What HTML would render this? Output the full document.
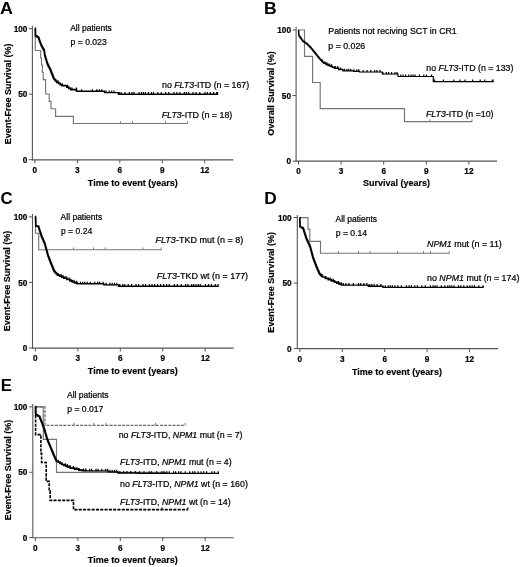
<!DOCTYPE html>
<html><head><meta charset="utf-8"><title>Figure</title>
<style>
html,body{margin:0;padding:0;background:#fff;}
svg{display:block;will-change:transform;}
text{font-family:"Liberation Sans",sans-serif;fill:#000;}
.tx{font-size:8.8px;stroke:#000;stroke-width:0.22px;}
.tk{font-size:8.4px;font-weight:bold;stroke:#000;stroke-width:0.2px;}
.tt{font-size:9.03px;font-weight:bold;stroke:#000;stroke-width:0.15px;}
.pl{font-size:16px;font-weight:bold;fill:#000;}
.i{font-style:italic;}
</style></head>
<body>
<svg width="520" height="567" viewBox="0 0 520 567">
<rect width="520" height="567" fill="#fff"/>
<path d="M32.4,26 V160.20000000000002" fill="none" stroke="#555555" stroke-width="1.1"/>
<path d="M32.1,159.9 H233.3" fill="none" stroke="#555555" stroke-width="1.1"/>
<path d="M28.799999999999997,159.70 H32.4" stroke="#555555" stroke-width="1"/>
<text transform="translate(27.4,162.85) scale(0.98,1)" text-anchor="end" class="tk">0</text>
<path d="M28.799999999999997,94.15 H32.4" stroke="#555555" stroke-width="1"/>
<text transform="translate(27.4,97.30) scale(0.98,1)" text-anchor="end" class="tk">50</text>
<path d="M28.799999999999997,28.60 H32.4" stroke="#555555" stroke-width="1"/>
<text transform="translate(27.4,31.75) scale(0.98,1)" text-anchor="end" class="tk">100</text>
<path d="M34.90,159.9 v3.4" stroke="#555555" stroke-width="1"/>
<text transform="translate(34.90,172.75) scale(0.98,1)" text-anchor="middle" class="tk">0</text>
<path d="M77.35,159.9 v3.4" stroke="#555555" stroke-width="1"/>
<text transform="translate(77.35,172.75) scale(0.98,1)" text-anchor="middle" class="tk">3</text>
<path d="M119.80,159.9 v3.4" stroke="#555555" stroke-width="1"/>
<text transform="translate(119.80,172.75) scale(0.98,1)" text-anchor="middle" class="tk">6</text>
<path d="M162.25,159.9 v3.4" stroke="#555555" stroke-width="1"/>
<text transform="translate(162.25,172.75) scale(0.98,1)" text-anchor="middle" class="tk">9</text>
<path d="M204.70,159.9 v3.4" stroke="#555555" stroke-width="1"/>
<text transform="translate(204.70,172.75) scale(0.98,1)" text-anchor="middle" class="tk">12</text>
<text x="132.8" y="185.80" text-anchor="middle" class="tt">Time to event (years)</text>
<text transform="translate(10.7,93.8) rotate(-90)" text-anchor="middle" class="tt">Event-Free Survival (%)</text>
<text transform="translate(-0.1,14.1) scale(1.12,1)" class="pl">A</text>
<path d="M35.30,28.60 L35.30,50.50 L40.70,50.50 L40.70,57.80 L41.50,57.80 L41.50,65.00 L42.40,65.00 L42.40,72.30 L43.20,72.30 L43.20,79.60 L45.50,79.60 L45.70,94.00 L49.20,94.00 L49.20,101.40 L51.00,101.40 L51.00,108.70 L55.60,108.70 L55.60,116.30 L73.40,116.30 L73.40,123.50 L187.50,123.50" fill="none" stroke="#757575" stroke-width="1.15"/>
<path d="M120.50,123.80 v-2.6 M132.50,123.80 v-2.6 M165.50,123.80 v-2.6 M187.50,123.80 v-2.6" fill="none" stroke="#757575" stroke-width="0.9"/>
<path d="M35.30,28.20 L35.32,28.20 L35.32,29.16 L35.35,29.16 L35.35,30.12 L35.38,30.12 L35.38,31.09 L35.40,31.09 L35.40,32.05 L35.42,32.05 L35.42,33.01 L35.45,33.01 L35.45,33.98 L35.48,33.98 L35.48,34.94 L35.50,34.94 L35.50,35.90 L36.95,35.90 L36.95,36.85 L38.40,36.85 L38.40,37.80 L38.77,37.80 L38.77,38.87 L39.13,38.87 L39.13,39.93 L39.50,39.93 L39.50,41.00 L39.88,41.00 L39.88,42.00 L40.25,42.00 L40.25,43.00 L40.62,43.00 L40.62,44.00 L41.00,44.00 L41.00,45.00 L41.50,45.00 L41.50,46.00 L42.00,46.00 L42.00,47.00 L42.50,47.00 L42.50,48.00 L43.07,48.00 L43.07,48.93 L43.63,48.93 L43.63,49.87 L44.20,49.87 L44.20,50.80 L44.33,50.80 L44.33,51.85 L44.45,51.85 L44.45,52.90 L44.58,52.90 L44.58,53.95 L44.70,53.95 L44.70,55.00 L44.96,55.00 L44.96,55.90 L45.22,55.90 L45.22,56.80 L45.48,56.80 L45.48,57.70 L45.74,57.70 L45.74,58.60 L46.00,58.60 L46.00,59.50 L46.32,59.50 L46.32,60.52 L46.64,60.52 L46.64,61.54 L46.96,61.54 L46.96,62.56 L47.28,62.56 L47.28,63.58 L47.60,63.58 L47.60,64.60 L48.08,64.60 L48.08,65.57 L48.57,65.57 L48.57,66.53 L49.05,66.53 L49.05,67.50 L49.53,67.50 L49.53,68.47 L50.02,68.47 L50.02,69.43 L50.50,69.43 L50.50,70.40 L50.88,70.40 L50.88,71.36 L51.26,71.36 L51.26,72.31 L51.63,72.31 L51.63,73.27 L52.01,73.27 L52.01,74.22 L52.39,74.22 L52.39,75.18 L52.77,75.18 L52.77,76.13 L53.14,76.13 L53.14,77.09 L53.52,77.09 L53.52,78.04 L53.90,78.04 L53.90,79.00 L54.85,79.00 L54.85,80.13 L55.80,80.13 L55.80,81.27 L56.75,81.27 L56.75,82.40 L58.50,82.40 L58.50,83.47 L60.25,83.47 L60.25,84.53 L62.00,84.53 L62.00,85.60 L66.80,85.60 L66.80,87.20 L68.75,87.20 L68.75,88.40 L70.70,88.40 L70.70,89.60 L76.50,89.60 L76.50,91.30" fill="none" stroke="#000" stroke-width="1.7" stroke-linejoin="miter"/>
<path d="M76.50,91.30 L104.60,91.30 L104.60,92.60 L118.50,92.60 L118.50,94.20 L217.50,94.20" fill="none" stroke="#000" stroke-width="1.4" stroke-linejoin="miter" stroke-linecap="square"/>
<path d="M58.00,82.70 v-2.4 M62.40,85.90 v-2.4 M67.60,87.50 v-2.4 M72.00,89.90 v-2.4 M76.40,89.90 v-2.4 M81.60,91.60 v-2.4 M92.40,91.60 v-2.4 M96.80,91.60 v-2.4 M99.40,91.60 v-2.4 M101.70,91.60 v-2.4 M106.10,92.90 v-2.4 M109.10,92.90 v-2.4 M111.70,92.90 v-2.4 M114.00,92.90 v-2.4 M119.20,94.50 v-2.4 M121.20,94.50 v-2.4 M125.00,94.50 v-2.4 M129.40,94.50 v-2.4 M132.00,94.50 v-2.4 M134.00,94.50 v-2.4 M139.20,94.50 v-2.4 M141.50,94.50 v-2.4 M143.50,94.50 v-2.4 M145.50,94.50 v-2.4 M148.50,94.50 v-2.4 M151.50,94.50 v-2.4 M153.50,94.50 v-2.4 M157.90,94.50 v-2.4 M161.30,94.50 v-2.4 M165.70,94.50 v-2.4 M168.70,94.50 v-2.4 M173.90,94.50 v-2.4 M176.90,94.50 v-2.4 M179.90,94.50 v-2.4 M184.30,94.50 v-2.4 M186.30,94.50 v-2.4 M188.60,94.50 v-2.4 M193.00,94.50 v-2.4 M196.00,94.50 v-2.4 M199.80,94.50 v-2.4 M205.00,94.50 v-2.4 M207.30,94.50 v-2.4 M210.30,94.50 v-2.4 M213.70,94.50 v-2.4 M216.70,94.50 v-2.4 M217.50,94.50 v-2.4" fill="none" stroke="#000" stroke-width="1.2"/>
<text x="70.20" y="30.85" class="tx" style="font-size:8.5px">All patients</text>
<text x="70.60" y="44.95" class="tx" style="font-size:8.6px">p = 0.023</text>
<text x="162.00" y="87.65" class="tx">no <tspan class="i">FLT3</tspan>-ITD (n = 167)</text>
<text x="161.70" y="118.15" class="tx" style="font-size:8.9px"><tspan class="i">FLT3</tspan>-ITD (n = 18)</text>
<path d="M296.1,26.8 V161.45000000000002" fill="none" stroke="#555555" stroke-width="1.1"/>
<path d="M295.8,161.15 H497" fill="none" stroke="#555555" stroke-width="1.1"/>
<path d="M292.5,161.10 H296.1" stroke="#555555" stroke-width="1"/>
<text transform="translate(291,164.25) scale(0.98,1)" text-anchor="end" class="tk">0</text>
<path d="M292.5,95.55 H296.1" stroke="#555555" stroke-width="1"/>
<text transform="translate(291,98.70) scale(0.98,1)" text-anchor="end" class="tk">50</text>
<path d="M292.5,30.00 H296.1" stroke="#555555" stroke-width="1"/>
<text transform="translate(291,33.15) scale(0.98,1)" text-anchor="end" class="tk">100</text>
<path d="M298.50,161.15 v3.4" stroke="#555555" stroke-width="1"/>
<text transform="translate(298.50,174.25) scale(0.98,1)" text-anchor="middle" class="tk">0</text>
<path d="M341.10,161.15 v3.4" stroke="#555555" stroke-width="1"/>
<text transform="translate(341.10,174.25) scale(0.98,1)" text-anchor="middle" class="tk">3</text>
<path d="M383.70,161.15 v3.4" stroke="#555555" stroke-width="1"/>
<text transform="translate(383.70,174.25) scale(0.98,1)" text-anchor="middle" class="tk">6</text>
<path d="M426.30,161.15 v3.4" stroke="#555555" stroke-width="1"/>
<text transform="translate(426.30,174.25) scale(0.98,1)" text-anchor="middle" class="tk">9</text>
<path d="M468.90,161.15 v3.4" stroke="#555555" stroke-width="1"/>
<text transform="translate(468.90,174.25) scale(0.98,1)" text-anchor="middle" class="tk">12</text>
<text x="396.5" y="186.10" text-anchor="middle" class="tt">Survival (years)</text>
<text transform="translate(273.8,93.5) rotate(-90)" text-anchor="middle" class="tt">Overall Survival (%)</text>
<text transform="translate(264,13.9) scale(1.1,1)" class="pl">B</text>
<path d="M298.70,30.00 L304.50,30.00 L304.50,56.30 L312.60,56.30 L312.60,82.50 L320.20,82.50 L320.20,108.60 L404.50,108.60 L404.50,121.60 L472.00,121.60" fill="none" stroke="#757575" stroke-width="1.15"/>
<path d="M430.00,121.90 v-2.6 M472.00,121.90 v-2.6" fill="none" stroke="#757575" stroke-width="0.9"/>
<path d="M298.50,30.00 L298.57,30.00 L298.57,30.98 L298.63,30.98 L298.63,31.97 L298.70,31.97 L298.70,32.95 L298.77,32.95 L298.77,33.93 L298.83,33.93 L298.83,34.92 L298.90,34.92 L298.90,35.90 L299.66,35.90 L299.66,36.96 L300.42,36.96 L300.42,38.02 L301.18,38.02 L301.18,39.08 L301.94,39.08 L301.94,40.14 L302.70,40.14 L302.70,41.20 L304.10,41.20 L304.10,42.23 L305.50,42.23 L305.50,43.27 L306.90,43.27 L306.90,44.30 L307.97,44.30 L307.97,45.38 L309.05,45.38 L309.05,46.45 L310.12,46.45 L310.12,47.52 L311.20,47.52 L311.20,48.60 L312.04,48.60 L312.04,49.64 L312.88,49.64 L312.88,50.68 L313.72,50.68 L313.72,51.72 L314.56,51.72 L314.56,52.76 L315.40,52.76 L315.40,53.80 L316.24,53.80 L316.24,54.86 L317.08,54.86 L317.08,55.92 L317.92,55.92 L317.92,56.98 L318.76,56.98 L318.76,58.04 L319.60,58.04 L319.60,59.10 L320.65,59.10 L320.65,60.17 L321.70,60.17 L321.70,61.25 L322.75,61.25 L322.75,62.33 L323.80,62.33 L323.80,63.40 L325.95,63.40 L325.95,64.45 L328.10,64.45 L328.10,65.50 L330.20,65.50 L330.20,66.40 L332.30,66.40 L332.30,67.30 L334.40,67.30 L334.40,68.20 L338.65,68.20 L338.65,69.50 L342.90,69.50 L342.90,70.80" fill="none" stroke="#000" stroke-width="1.4" stroke-linejoin="miter"/>
<path d="M342.90,70.80 L353.50,70.80 L353.50,71.40 L359.40,71.40 L359.40,72.00 L382.30,72.00 L382.30,74.00 L398.00,74.00 L398.00,76.50 L433.30,76.50 L433.30,81.60 L493.00,81.60" fill="none" stroke="#000" stroke-width="1.2" stroke-linejoin="miter" stroke-linecap="square"/>
<path d="M322.00,61.55 v-2.4 M325.00,63.70 v-2.4 M327.00,64.75 v-2.4 M329.30,65.80 v-2.4 M331.60,66.70 v-2.4 M335.40,68.50 v-2.4 M337.70,68.50 v-2.4 M340.70,69.80 v-2.4 M344.50,71.10 v-2.4 M346.80,71.10 v-2.4 M348.80,71.10 v-2.4 M350.80,71.10 v-2.4 M353.80,71.70 v-2.4 M356.80,71.70 v-2.4 M358.80,71.70 v-2.4 M363.20,72.30 v-2.4 M367.00,72.30 v-2.4 M370.80,72.30 v-2.4 M374.60,72.30 v-2.4 M376.90,72.30 v-2.4 M379.90,72.30 v-2.4 M382.90,74.30 v-2.4 M386.30,74.30 v-2.4 M388.60,74.30 v-2.4 M391.60,74.30 v-2.4 M395.00,74.30 v-2.4 M397.00,74.30 v-2.4 M400.80,76.80 v-2.4 M403.10,76.80 v-2.4 M405.70,76.80 v-2.4 M408.70,76.80 v-2.4 M411.00,76.80 v-2.4 M413.00,76.80 v-2.4 M415.00,76.80 v-2.4 M419.40,76.80 v-2.4 M423.80,76.80 v-2.4 M426.40,76.80 v-2.4 M431.60,76.80 v-2.4 M434.60,81.90 v-2.4 M443.40,81.90 v-2.4 M453.80,81.90 v-2.4 M459.80,81.90 v-2.4 M465.00,81.90 v-2.4 M472.60,81.90 v-2.4 M480.20,81.90 v-2.4 M484.80,81.90 v-2.4 M492.40,81.90 v-2.4 M493.00,81.90 v-2.4" fill="none" stroke="#000" stroke-width="1.2"/>
<text x="328.30" y="34.15" class="tx">Patients not reciving SCT in CR1</text>
<text x="328.30" y="49.15" class="tx">p = 0.026</text>
<text x="426.30" y="70.65" class="tx">no <tspan class="i">FLT3</tspan>-ITD (n = 133)</text>
<text x="426.00" y="116.85" class="tx"><tspan class="i">FLT3</tspan>-ITD (n =10)</text>
<path d="M32.5,214 V348.40000000000003" fill="none" stroke="#555555" stroke-width="1.1"/>
<path d="M32.2,348.1 H233.7" fill="none" stroke="#555555" stroke-width="1.1"/>
<path d="M28.9,348.00 H32.5" stroke="#555555" stroke-width="1"/>
<text transform="translate(27.4,351.15) scale(0.98,1)" text-anchor="end" class="tk">0</text>
<path d="M28.9,282.45 H32.5" stroke="#555555" stroke-width="1"/>
<text transform="translate(27.4,285.60) scale(0.98,1)" text-anchor="end" class="tk">50</text>
<path d="M28.9,216.90 H32.5" stroke="#555555" stroke-width="1"/>
<text transform="translate(27.4,220.05) scale(0.98,1)" text-anchor="end" class="tk">100</text>
<path d="M35.40,348.1 v3.4" stroke="#555555" stroke-width="1"/>
<text transform="translate(35.40,361.05) scale(0.98,1)" text-anchor="middle" class="tk">0</text>
<path d="M77.85,348.1 v3.4" stroke="#555555" stroke-width="1"/>
<text transform="translate(77.85,361.05) scale(0.98,1)" text-anchor="middle" class="tk">3</text>
<path d="M120.30,348.1 v3.4" stroke="#555555" stroke-width="1"/>
<text transform="translate(120.30,361.05) scale(0.98,1)" text-anchor="middle" class="tk">6</text>
<path d="M162.75,348.1 v3.4" stroke="#555555" stroke-width="1"/>
<text transform="translate(162.75,361.05) scale(0.98,1)" text-anchor="middle" class="tk">9</text>
<path d="M205.20,348.1 v3.4" stroke="#555555" stroke-width="1"/>
<text transform="translate(205.20,361.05) scale(0.98,1)" text-anchor="middle" class="tk">12</text>
<text x="132.8" y="373.80" text-anchor="middle" class="tt">Time to event (years)</text>
<text transform="translate(10.2,281) rotate(-90)" text-anchor="middle" class="tt">Event-Free Survival (%)</text>
<text transform="translate(0.6,204) scale(1.05,1)" class="pl">C</text>
<path d="M35.50,216.90 L35.50,233.20 L38.70,233.20 L38.70,249.70 L161.30,249.70" fill="none" stroke="#757575" stroke-width="1.15"/>
<path d="M73.40,250.00 v-2.6 M93.50,250.00 v-2.6 M105.10,250.00 v-2.6 M143.00,250.00 v-2.6 M161.30,250.00 v-2.6" fill="none" stroke="#757575" stroke-width="0.9"/>
<path d="M35.50,216.30 L35.54,216.30 L35.54,217.29 L35.58,217.29 L35.58,218.28 L35.62,218.28 L35.62,219.27 L35.66,219.27 L35.66,220.26 L35.70,220.26 L35.70,221.25 L35.74,221.25 L35.74,222.24 L35.78,222.24 L35.78,223.23 L35.82,223.23 L35.82,224.22 L35.86,224.22 L35.86,225.21 L35.90,225.21 L35.90,226.20 L38.50,226.20 L38.50,227.20 L38.81,227.20 L38.81,228.15 L39.12,228.15 L39.12,229.10 L39.43,229.10 L39.43,230.05 L39.74,230.05 L39.74,231.00 L40.05,231.00 L40.05,231.95 L40.36,231.95 L40.36,232.90 L40.67,232.90 L40.67,233.85 L40.98,233.85 L40.98,234.80 L41.29,234.80 L41.29,235.75 L41.60,235.75 L41.60,236.70 L42.00,236.70 L42.00,237.62 L42.40,237.62 L42.40,238.55 L42.80,238.55 L42.80,239.47 L43.20,239.47 L43.20,240.40 L43.60,240.40 L43.60,241.32 L44.00,241.32 L44.00,242.25 L44.40,242.25 L44.40,243.17 L44.80,243.17 L44.80,244.10 L45.05,244.10 L45.05,245.00 L45.29,245.00 L45.29,245.90 L45.54,245.90 L45.54,246.80 L45.78,246.80 L45.78,247.70 L46.03,247.70 L46.03,248.60 L46.28,248.60 L46.28,249.50 L46.52,249.50 L46.52,250.40 L46.77,250.40 L46.77,251.30 L47.02,251.30 L47.02,252.20 L47.26,252.20 L47.26,253.10 L47.51,253.10 L47.51,254.00 L47.75,254.00 L47.75,254.90 L48.00,254.90 L48.00,255.80 L48.36,255.80 L48.36,256.73 L48.71,256.73 L48.71,257.67 L49.07,257.67 L49.07,258.60 L49.42,258.60 L49.42,259.53 L49.78,259.53 L49.78,260.47 L50.13,260.47 L50.13,261.40 L50.49,261.40 L50.49,262.33 L50.84,262.33 L50.84,263.27 L51.20,263.27 L51.20,264.20 L51.59,264.20 L51.59,265.12 L51.98,265.12 L51.98,266.05 L52.36,266.05 L52.36,266.98 L52.75,266.98 L52.75,267.90 L53.14,267.90 L53.14,268.82 L53.52,268.82 L53.52,269.75 L53.91,269.75 L53.91,270.68 L54.30,270.68 L54.30,271.60 L55.37,271.60 L55.37,272.80 L56.43,272.80 L56.43,274.00 L57.50,274.00 L57.50,275.20 L59.60,275.20 L59.60,276.20 L61.70,276.20 L61.70,277.20 L63.80,277.20 L63.80,278.20 L66.90,278.20 L66.90,279.50 L70.00,279.50 L70.00,280.80 L72.33,280.80 L72.33,281.80 L74.67,281.80 L74.67,282.80 L77.00,282.80 L77.00,283.80" fill="none" stroke="#000" stroke-width="1.7" stroke-linejoin="miter"/>
<path d="M77.00,283.80 L103.80,283.80 L103.80,284.90 L118.50,284.90 L118.50,286.20 L218.00,286.20" fill="none" stroke="#000" stroke-width="1.4" stroke-linejoin="miter" stroke-linecap="square"/>
<path d="M58.00,275.50 v-2.4 M61.00,276.50 v-2.4 M63.00,277.50 v-2.4 M66.00,278.50 v-2.4 M69.00,279.80 v-2.4 M71.00,281.10 v-2.4 M74.00,282.10 v-2.4 M76.60,283.10 v-2.4 M80.40,284.10 v-2.4 M82.70,284.10 v-2.4 M84.70,284.10 v-2.4 M87.30,284.10 v-2.4 M90.30,284.10 v-2.4 M94.70,284.10 v-2.4 M97.70,284.10 v-2.4 M99.70,284.10 v-2.4 M103.10,284.10 v-2.4 M106.10,285.20 v-2.4 M109.90,285.20 v-2.4 M112.20,285.20 v-2.4 M114.50,285.20 v-2.4 M116.80,285.20 v-2.4 M119.80,286.50 v-2.4 M122.80,286.50 v-2.4 M124.80,286.50 v-2.4 M128.20,286.50 v-2.4 M131.60,286.50 v-2.4 M136.00,286.50 v-2.4 M138.60,286.50 v-2.4 M143.00,286.50 v-2.4 M145.60,286.50 v-2.4 M149.40,286.50 v-2.4 M152.00,286.50 v-2.4 M154.60,286.50 v-2.4 M157.60,286.50 v-2.4 M160.60,286.50 v-2.4 M163.60,286.50 v-2.4 M166.60,286.50 v-2.4 M169.20,286.50 v-2.4 M174.40,286.50 v-2.4 M177.40,286.50 v-2.4 M181.20,286.50 v-2.4 M185.60,286.50 v-2.4 M187.90,286.50 v-2.4 M191.70,286.50 v-2.4 M193.70,286.50 v-2.4 M196.00,286.50 v-2.4 M198.30,286.50 v-2.4 M200.30,286.50 v-2.4 M205.50,286.50 v-2.4 M208.50,286.50 v-2.4 M211.50,286.50 v-2.4 M215.30,286.50 v-2.4 M218.00,286.50 v-2.4" fill="none" stroke="#000" stroke-width="1.2"/>
<text x="60.60" y="219.95" class="tx" style="font-size:8.5px">All patients</text>
<text x="60.90" y="233.65" class="tx" style="font-size:8.6px">p = 0.24</text>
<text x="155.50" y="243.15" class="tx" style="font-size:9.03px"><tspan class="i">FLT3</tspan>-TKD mut (n = 8)</text>
<text x="156.80" y="279.45" class="tx" style="font-size:8.97px"><tspan class="i">FLT3</tspan>-TKD wt (n = 177)</text>
<path d="M297.3,215 V348.90000000000003" fill="none" stroke="#555555" stroke-width="1.1"/>
<path d="M297.0,348.6 H498" fill="none" stroke="#555555" stroke-width="1.1"/>
<path d="M293.7,348.60 H297.3" stroke="#555555" stroke-width="1"/>
<text transform="translate(291.6,351.75) scale(0.98,1)" text-anchor="end" class="tk">0</text>
<path d="M293.7,283.05 H297.3" stroke="#555555" stroke-width="1"/>
<text transform="translate(291.6,286.20) scale(0.98,1)" text-anchor="end" class="tk">50</text>
<path d="M293.7,217.50 H297.3" stroke="#555555" stroke-width="1"/>
<text transform="translate(291.6,220.65) scale(0.98,1)" text-anchor="end" class="tk">100</text>
<path d="M299.90,348.6 v3.4" stroke="#555555" stroke-width="1"/>
<text transform="translate(299.90,361.85) scale(0.98,1)" text-anchor="middle" class="tk">0</text>
<path d="M342.29,348.6 v3.4" stroke="#555555" stroke-width="1"/>
<text transform="translate(342.29,361.85) scale(0.98,1)" text-anchor="middle" class="tk">3</text>
<path d="M384.68,348.6 v3.4" stroke="#555555" stroke-width="1"/>
<text transform="translate(384.68,361.85) scale(0.98,1)" text-anchor="middle" class="tk">6</text>
<path d="M427.07,348.6 v3.4" stroke="#555555" stroke-width="1"/>
<text transform="translate(427.07,361.85) scale(0.98,1)" text-anchor="middle" class="tk">9</text>
<path d="M469.46,348.6 v3.4" stroke="#555555" stroke-width="1"/>
<text transform="translate(469.46,361.85) scale(0.98,1)" text-anchor="middle" class="tk">12</text>
<text x="396.9" y="374.80" text-anchor="middle" class="tt">Time to event (years)</text>
<text transform="translate(273.8,282.4) rotate(-90)" text-anchor="middle" class="tt">Event-Free Survival (%)</text>
<text transform="translate(264.3,203.9) scale(1.08,1)" class="pl">D</text>
<path d="M299.80,217.60 L308.00,217.60 L308.00,229.40 L309.80,229.40 L309.80,241.30 L320.50,241.30 L320.50,253.20 L449.30,253.20" fill="none" stroke="#757575" stroke-width="1.15"/>
<path d="M338.40,253.50 v-2.6 M358.50,253.50 v-2.6 M370.10,253.50 v-2.6 M397.60,253.50 v-2.6 M423.50,253.50 v-2.6 M430.50,253.50 v-2.6 M449.30,253.50 v-2.6" fill="none" stroke="#757575" stroke-width="0.9"/>
<path d="M299.80,217.50 L299.83,217.50 L299.83,218.45 L299.86,218.45 L299.86,219.40 L299.89,219.40 L299.89,220.35 L299.92,220.35 L299.92,221.30 L299.95,221.30 L299.95,222.25 L299.98,222.25 L299.98,223.20 L300.01,223.20 L300.01,224.15 L300.04,224.15 L300.04,225.10 L300.07,225.10 L300.07,226.05 L300.10,226.05 L300.10,227.00 L301.65,227.00 L301.65,227.90 L303.20,227.90 L303.20,228.80 L303.49,228.80 L303.49,229.73 L303.78,229.73 L303.78,230.65 L304.07,230.65 L304.07,231.58 L304.36,231.58 L304.36,232.51 L304.65,232.51 L304.65,233.44 L304.95,233.44 L304.95,234.36 L305.24,234.36 L305.24,235.29 L305.53,235.29 L305.53,236.22 L305.82,236.22 L305.82,237.15 L306.11,237.15 L306.11,238.07 L306.40,238.07 L306.40,239.00 L306.85,239.00 L306.85,239.94 L307.30,239.94 L307.30,240.88 L307.75,240.88 L307.75,241.81 L308.20,241.81 L308.20,242.75 L308.65,242.75 L308.65,243.69 L309.10,243.69 L309.10,244.62 L309.55,244.62 L309.55,245.56 L310.00,245.56 L310.00,246.50 L310.25,246.50 L310.25,247.42 L310.49,247.42 L310.49,248.35 L310.74,248.35 L310.74,249.27 L310.98,249.27 L310.98,250.19 L311.23,250.19 L311.23,251.12 L311.48,251.12 L311.48,252.04 L311.72,252.04 L311.72,252.96 L311.97,252.96 L311.97,253.88 L312.22,253.88 L312.22,254.81 L312.46,254.81 L312.46,255.73 L312.71,255.73 L312.71,256.65 L312.95,256.65 L312.95,257.58 L313.20,257.58 L313.20,258.50 L313.56,258.50 L313.56,259.42 L313.91,259.42 L313.91,260.34 L314.27,260.34 L314.27,261.27 L314.62,261.27 L314.62,262.19 L314.98,262.19 L314.98,263.11 L315.33,263.11 L315.33,264.03 L315.69,264.03 L315.69,264.96 L316.04,264.96 L316.04,265.88 L316.40,265.88 L316.40,266.80 L316.80,266.80 L316.80,267.73 L317.20,267.73 L317.20,268.65 L317.60,268.65 L317.60,269.57 L318.00,269.57 L318.00,270.50 L318.40,270.50 L318.40,271.43 L318.80,271.43 L318.80,272.35 L319.20,272.35 L319.20,273.27 L319.60,273.27 L319.60,274.20 L320.57,274.20 L320.57,275.13 L321.53,275.13 L321.53,276.07 L322.50,276.07 L322.50,277.00 L325.40,277.00 L325.40,278.30 L328.30,278.30 L328.30,279.60 L331.40,279.60 L331.40,280.90 L334.50,280.90 L334.50,282.20 L336.83,282.20 L336.83,283.17 L339.17,283.17 L339.17,284.13 L341.50,284.13 L341.50,285.10" fill="none" stroke="#000" stroke-width="1.7" stroke-linejoin="miter"/>
<path d="M341.50,285.10 L368.30,285.10 L368.30,286.20 L383.00,286.20 L383.00,287.40 L483.00,287.40" fill="none" stroke="#000" stroke-width="1.4" stroke-linejoin="miter" stroke-linecap="square"/>
<path d="M322.00,276.37 v-2.4 M325.80,278.60 v-2.4 M330.20,279.90 v-2.4 M333.20,281.20 v-2.4 M338.40,283.47 v-2.4 M341.00,284.43 v-2.4 M343.30,285.40 v-2.4 M345.90,285.40 v-2.4 M348.90,285.40 v-2.4 M353.30,285.40 v-2.4 M358.50,285.40 v-2.4 M360.80,285.40 v-2.4 M363.80,285.40 v-2.4 M366.80,285.40 v-2.4 M369.80,286.50 v-2.4 M371.80,286.50 v-2.4 M374.10,286.50 v-2.4 M377.10,286.50 v-2.4 M380.90,286.50 v-2.4 M385.30,287.70 v-2.4 M388.30,287.70 v-2.4 M390.30,287.70 v-2.4 M392.30,287.70 v-2.4 M394.90,287.70 v-2.4 M397.90,287.70 v-2.4 M401.30,287.70 v-2.4 M406.50,287.70 v-2.4 M409.10,287.70 v-2.4 M411.40,287.70 v-2.4 M414.80,287.70 v-2.4 M417.40,287.70 v-2.4 M421.80,287.70 v-2.4 M425.20,287.70 v-2.4 M430.40,287.70 v-2.4 M433.00,287.70 v-2.4 M435.00,287.70 v-2.4 M437.00,287.70 v-2.4 M441.40,287.70 v-2.4 M444.80,287.70 v-2.4 M447.80,287.70 v-2.4 M449.80,287.70 v-2.4 M451.80,287.70 v-2.4 M454.10,287.70 v-2.4 M458.50,287.70 v-2.4 M460.80,287.70 v-2.4 M463.80,287.70 v-2.4 M467.20,287.70 v-2.4 M469.80,287.70 v-2.4 M472.10,287.70 v-2.4 M474.40,287.70 v-2.4 M478.80,287.70 v-2.4 M483.00,287.70 v-2.4" fill="none" stroke="#000" stroke-width="1.2"/>
<text x="335.50" y="222.15" class="tx" style="font-size:8.5px">All patients</text>
<text x="335.80" y="236.15" class="tx" style="font-size:8.6px">p = 0.14</text>
<text x="427.00" y="246.85" class="tx" style="font-size:8.92px"><tspan class="i">NPM1</tspan> mut (n = 11)</text>
<text x="427.00" y="280.65" class="tx" style="font-size:8.87px">no <tspan class="i">NPM1</tspan> mut (n = 174)</text>
<path d="M32.8,404 V538.0" fill="none" stroke="#555555" stroke-width="1.1"/>
<path d="M32.5,537.7 H233.7" fill="none" stroke="#555555" stroke-width="1.1"/>
<path d="M29.199999999999996,537.60 H32.8" stroke="#555555" stroke-width="1"/>
<text transform="translate(27.4,540.75) scale(0.98,1)" text-anchor="end" class="tk">0</text>
<path d="M29.199999999999996,472.25 H32.8" stroke="#555555" stroke-width="1"/>
<text transform="translate(27.4,475.40) scale(0.98,1)" text-anchor="end" class="tk">50</text>
<path d="M29.199999999999996,406.90 H32.8" stroke="#555555" stroke-width="1"/>
<text transform="translate(27.4,410.05) scale(0.98,1)" text-anchor="end" class="tk">100</text>
<path d="M35.40,537.7 v3.4" stroke="#555555" stroke-width="1"/>
<text transform="translate(35.40,550.85) scale(0.98,1)" text-anchor="middle" class="tk">0</text>
<path d="M77.85,537.7 v3.4" stroke="#555555" stroke-width="1"/>
<text transform="translate(77.85,550.85) scale(0.98,1)" text-anchor="middle" class="tk">3</text>
<path d="M120.30,537.7 v3.4" stroke="#555555" stroke-width="1"/>
<text transform="translate(120.30,550.85) scale(0.98,1)" text-anchor="middle" class="tk">6</text>
<path d="M162.75,537.7 v3.4" stroke="#555555" stroke-width="1"/>
<text transform="translate(162.75,550.85) scale(0.98,1)" text-anchor="middle" class="tk">9</text>
<path d="M205.20,537.7 v3.4" stroke="#555555" stroke-width="1"/>
<text transform="translate(205.20,550.85) scale(0.98,1)" text-anchor="middle" class="tk">12</text>
<text x="132.8" y="563.20" text-anchor="middle" class="tt">Time to event (years)</text>
<text transform="translate(10.6,470) rotate(-90)" text-anchor="middle" class="tt">Event-Free Survival (%)</text>
<text transform="translate(0.7,391.4) scale(1.05,1)" class="pl">E</text>
<path d="M35.60,406.80 L43.30,406.80 L43.30,439.30 L56.50,439.30 L56.50,472.30 L167.00,472.30" fill="none" stroke="#757575" stroke-width="1.15"/>
<path d="M35.60,406.80 L45.00,406.80 L45.00,425.30 L185.20,425.30" fill="none" stroke="#686868" stroke-width="1.25" stroke-dasharray="3.0 1.2"/>
<path d="M74.00,425.50 v-2.6 M93.70,425.50 v-2.6 M105.80,425.50 v-2.6 M155.60,425.50 v-2.6 M185.20,425.50 v-2.6" fill="none" stroke="#686868" stroke-width="0.9"/>
<path d="M35.60,406.50 L35.60,434.60 L40.90,434.60 L40.90,453.20 L41.60,453.20 L41.60,462.50 L46.20,462.50 L46.20,481.40 L49.20,481.40 L49.20,491.00 L50.20,491.00 L50.20,500.40 L73.50,500.40 L73.50,509.60 L187.90,509.60" fill="none" stroke="#000" stroke-width="1.6" stroke-dasharray="3.1 1.2"/>
<path d="M162,509.9 v-2.6 M187.9,509.9 v-2.6" stroke="#000" stroke-width="1"/>
<path d="M35.60,406.50 L35.61,406.50 L35.61,407.42 L35.62,407.42 L35.62,408.34 L35.63,408.34 L35.63,409.27 L35.64,409.27 L35.64,410.19 L35.66,410.19 L35.66,411.11 L35.67,411.11 L35.67,412.03 L35.68,412.03 L35.68,412.96 L35.69,412.96 L35.69,413.88 L35.70,413.88 L35.70,414.80 L37.60,414.80 L37.60,416.00 L39.50,416.00 L39.50,417.20 L39.90,417.20 L39.90,418.16 L40.30,418.16 L40.30,419.12 L40.70,419.12 L40.70,420.08 L41.10,420.08 L41.10,421.04 L41.50,421.04 L41.50,422.00 L41.88,422.00 L41.88,422.96 L42.26,422.96 L42.26,423.92 L42.64,423.92 L42.64,424.88 L43.02,424.88 L43.02,425.84 L43.40,425.84 L43.40,426.80 L43.72,426.80 L43.72,427.83 L44.03,427.83 L44.03,428.87 L44.35,428.87 L44.35,429.90 L44.67,429.90 L44.67,430.93 L44.98,430.93 L44.98,431.97 L45.30,431.97 L45.30,433.00 L45.57,433.00 L45.57,433.93 L45.84,433.93 L45.84,434.86 L46.11,434.86 L46.11,435.79 L46.39,435.79 L46.39,436.71 L46.66,436.71 L46.66,437.64 L46.93,437.64 L46.93,438.57 L47.20,438.57 L47.20,439.50 L47.56,439.50 L47.56,440.40 L47.92,440.40 L47.92,441.30 L48.28,441.30 L48.28,442.20 L48.64,442.20 L48.64,443.10 L49.00,443.10 L49.00,444.00 L49.48,444.00 L49.48,445.07 L49.95,445.07 L49.95,446.15 L50.42,446.15 L50.42,447.23 L50.90,447.23 L50.90,448.30 L51.29,448.30 L51.29,449.26 L51.67,449.26 L51.67,450.23 L52.06,450.23 L52.06,451.19 L52.45,451.19 L52.45,452.15 L52.84,452.15 L52.84,453.11 L53.23,453.11 L53.23,454.07 L53.61,454.07 L53.61,455.04 L54.00,455.04 L54.00,456.00 L54.46,456.00 L54.46,457.00 L54.92,457.00 L54.92,458.00 L55.38,458.00 L55.38,459.00 L55.84,459.00 L55.84,460.00 L56.30,460.00 L56.30,461.00 L58.13,461.00 L58.13,462.17 L59.97,462.17 L59.97,463.33 L61.80,463.33 L61.80,464.50 L63.92,464.50 L63.92,465.40 L66.05,465.40 L66.05,466.30 L68.17,466.30 L68.17,467.20 L70.30,467.20 L70.30,468.10 L74.55,468.10 L74.55,469.15 L78.80,469.15 L78.80,470.20 L82.40,470.20 L82.40,470.55 L86.00,470.55 L86.00,470.90" fill="none" stroke="#000" stroke-width="1.7" stroke-linejoin="miter"/>
<path d="M86.00,470.90 L108.00,470.90 L108.00,471.90 L117.90,471.90 L117.90,473.00 L138.00,473.00 L138.00,473.40 L218.20,473.40" fill="none" stroke="#000" stroke-width="1.4" stroke-linejoin="miter" stroke-linecap="square"/>
<path d="M62.00,464.80 v-2.4 M65.40,465.70 v-2.4 M67.40,466.60 v-2.4 M70.00,467.50 v-2.4 M73.40,468.40 v-2.4 M76.80,469.45 v-2.4 M79.10,470.50 v-2.4 M83.50,470.85 v-2.4 M85.80,470.85 v-2.4 M89.60,471.20 v-2.4 M91.60,471.20 v-2.4 M96.00,471.20 v-2.4 M98.00,471.20 v-2.4 M101.80,471.20 v-2.4 M105.60,471.20 v-2.4 M107.60,471.20 v-2.4 M109.90,472.20 v-2.4 M112.20,472.20 v-2.4 M114.50,472.20 v-2.4 M116.80,472.20 v-2.4 M119.80,473.30 v-2.4 M123.60,473.30 v-2.4 M127.00,473.30 v-2.4 M130.80,473.30 v-2.4 M135.20,473.30 v-2.4 M139.60,473.70 v-2.4 M144.00,473.70 v-2.4 M149.20,473.70 v-2.4 M151.50,473.70 v-2.4 M156.70,473.70 v-2.4 M161.90,473.70 v-2.4 M163.90,473.70 v-2.4 M166.90,473.70 v-2.4 M169.20,473.70 v-2.4 M173.60,473.70 v-2.4 M175.60,473.70 v-2.4 M178.60,473.70 v-2.4 M180.90,473.70 v-2.4 M185.30,473.70 v-2.4 M189.70,473.70 v-2.4 M192.70,473.70 v-2.4 M194.70,473.70 v-2.4 M198.10,473.70 v-2.4 M201.10,473.70 v-2.4 M203.70,473.70 v-2.4 M206.70,473.70 v-2.4 M211.90,473.70 v-2.4 M214.50,473.70 v-2.4 M218.20,473.70 v-2.4" fill="none" stroke="#000" stroke-width="1.2"/>
<text x="67.00" y="398.15" class="tx" style="font-size:8.5px">All patients</text>
<text x="67.30" y="411.95" class="tx" style="font-size:8.6px">p = 0.017</text>
<text x="118.70" y="437.75" class="tx">no <tspan class="i">FLT3</tspan>-ITD, <tspan class="i">NPM1</tspan> mut (n = 7)</text>
<text x="120.10" y="465.15" class="tx"><tspan class="i">FLT3</tspan>-ITD, <tspan class="i">NPM1</tspan> mut (n = 4)</text>
<text x="120.10" y="486.75" class="tx">no <tspan class="i">FLT3</tspan>-ITD, <tspan class="i">NPM1</tspan> wt (n = 160)</text>
<text x="120.10" y="504.65" class="tx"><tspan class="i">FLT3</tspan>-ITD, <tspan class="i">NPM1</tspan> wt (n = 14)</text>
</svg>
</body></html>
